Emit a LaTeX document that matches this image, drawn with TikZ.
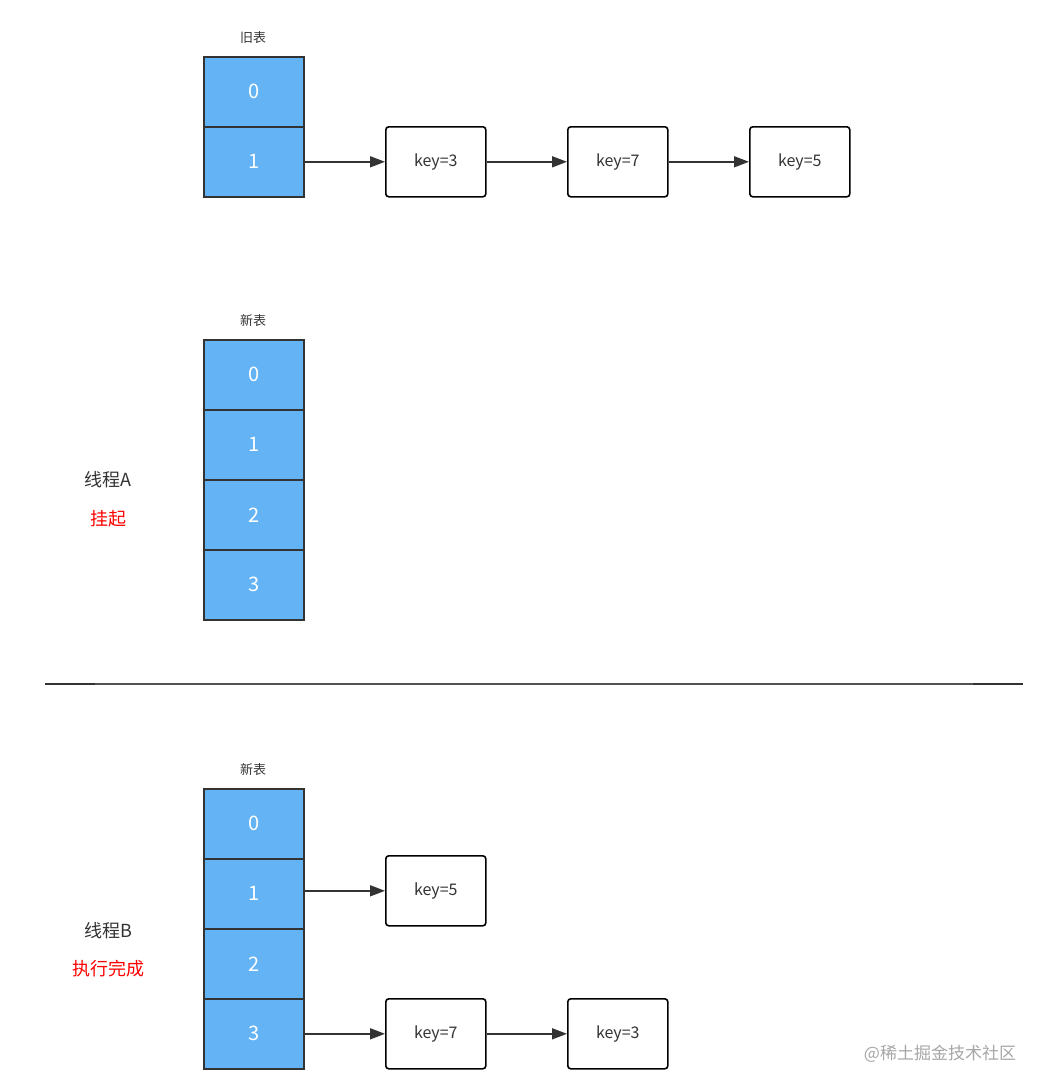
\documentclass[tikz,border=0pt]{standalone}
\usepackage{fontspec}
\setmainfont{Noto Sans CJK SC}
\usetikzlibrary{arrows.meta}
\definecolor{cellblue}{HTML}{64B4F5}
\definecolor{edge}{HTML}{333333}
\definecolor{redtxt}{HTML}{FF0000}
\tikzset{
  cell/.style={draw=edge, line width=1.6pt, fill=cellblue, minimum width=100pt, minimum height=70pt, inner sep=0pt, text=white, font=\fontsize{20}{20}\selectfont, anchor=north west},
  keybox/.style={draw=black, line width=1.6pt, fill=white, rounded corners=3pt, minimum width=100pt, minimum height=70pt, inner sep=0pt, text=edge, font=\fontsize{16}{16}\selectfont, anchor=north west},
  link/.style={draw=edge, line width=1.6pt, -{Triangle[length=15pt,width=11pt]}},
  caption/.style={text=edge, font=\fontsize{13}{13}\selectfont},
  thread/.style={text=edge, font=\fontsize{18}{18}\selectfont},
  state/.style={text=redtxt, font=\fontsize{18}{18}\selectfont},
}
\begin{document}
\begin{tikzpicture}[x=1pt,y=-1pt]
\useasboundingbox (0,0) rectangle (1048,1092);
% old table
\node[caption] (cap1) at (253,38) {旧表};
\node[cell] (o0) at (203,56) {0};
\node[cell] (o1) at (203,126) {1};
\node[keybox] (ok3) at (385,126) {key=3};
\node[keybox] (ok7) at (567,126) {key=7};
\node[keybox] (ok5) at (749,126) {key=5};
\draw[link] (o1.east) -- (ok3.west);
\draw[link] (ok3.east) -- (ok7.west);
\draw[link] (ok7.east) -- (ok5.west);
% new table A
\node[caption] (cap2) at (253,321) {新表};
\node[cell] (a0) at (203,339) {0};
\node[cell] (a1) at (203,409) {1};
\node[cell] (a2) at (203,479) {2};
\node[cell] (a3) at (203,549) {3};
\node[thread] (ta) at (108,480) {线程A};
\node[state] (sa) at (108,519) {挂起};
% divider
\coordinate (d0) at (45,684);
\coordinate (d1) at (1023,684);
\coordinate (d0b) at (95,684);
\coordinate (d1b) at (973,684);
\draw[draw=edge!85, line width=1.6pt] (d0) -- (d1);
\draw[draw=edge, line width=2.4pt] (d0) -- (d0b);
\draw[draw=edge, line width=2.4pt] (d1b) -- (d1);
% new table B
\node[caption] (cap3) at (253,770) {新表};
\node[cell] (b0) at (203,788) {0};
\node[cell] (b1) at (203,858) {1};
\node[cell] (b2) at (203,928) {2};
\node[cell] (b3) at (203,998) {3};
\node[keybox] (bk5) at (385,855) {key=5};
\node[keybox] (bk7) at (385,998) {key=7};
\node[keybox] (bk3) at (567,998) {key=3};
\draw[link] (b1.east |- bk5.west) -- (bk5.west);
\draw[link] (b3.east) -- (bk7.west);
\draw[link] (bk7.east) -- (bk3.west);
\node[thread] (tb) at (108,931) {线程B};
\node[state] (sb) at (108,969) {执行完成};
% watermark
\node[text=black!35, font=\fontsize{17}{17}\selectfont] (wm) at (940,1054) {@稀土掘金技术社区};
\end{tikzpicture}
\end{document}
